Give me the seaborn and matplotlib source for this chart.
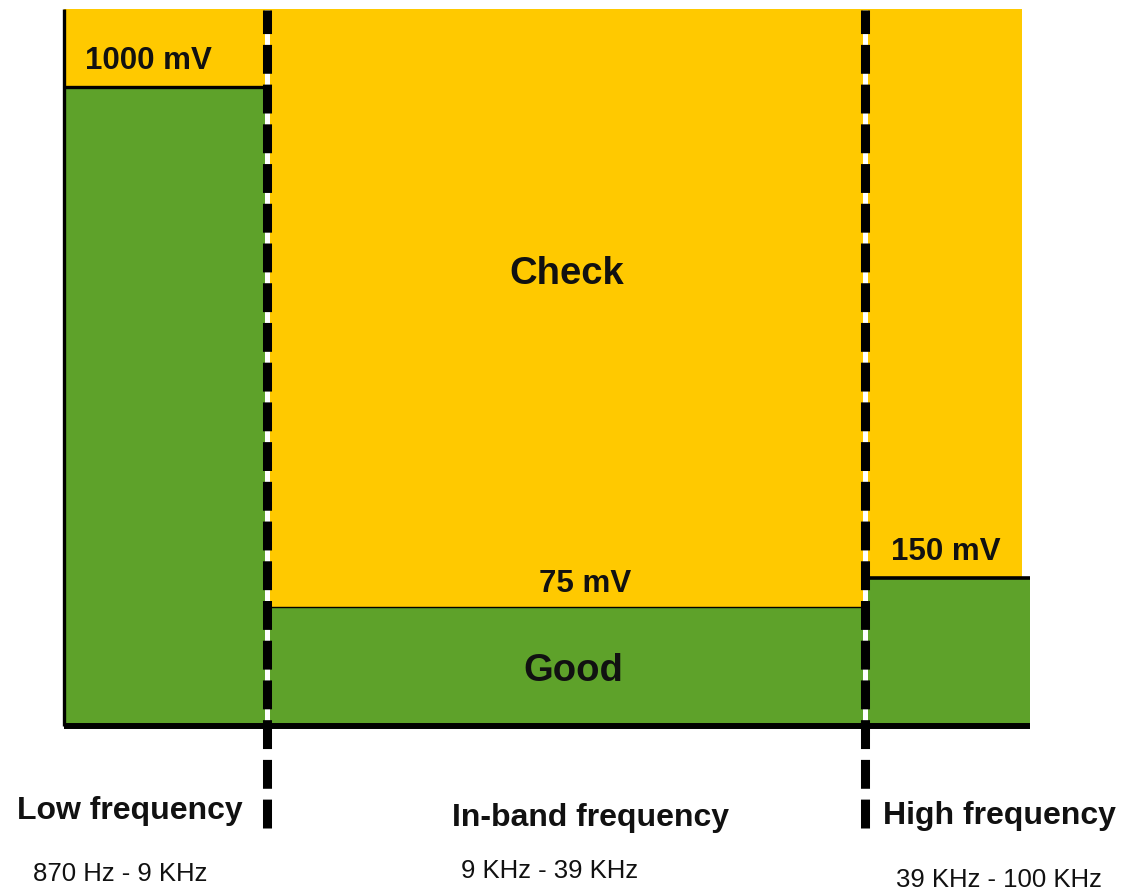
import numpy as np
import pandas as pd
import matplotlib
matplotlib.use("Agg")
import matplotlib.pyplot as plt
import seaborn as sns

# ---------------- data ----------------
band_names = ["Low frequency", "In-band frequency", "High frequency"]
band_ranges = ["870 Hz - 9 KHz", "9 KHz - 39 KHz", "39 KHz - 100 KHz"]
band_widths = [203, 598, 165]            # schematic widths of the three bands
threshold_labels = ["1000 mV", "75 mV", "150 mV"]
good_heights = [0.891, 0.166, 0.206]     # schematic height of the "Good" zone (fraction of chart)
zone_labels = ["Check", "Good"]

# ---------------- style ----------------
sns.set_style("white")
plt.rcParams["font.family"] = ["Liberation Sans", "DejaVu Sans"]

YELLOW = "#FFC900"
GREEN = "#5EA22A"
W, H = 1134, 890

fig = plt.figure(figsize=(W / 100, H / 100), dpi=100)
ax = fig.add_axes([64 / W, 1 - 726 / H, 966 / W, 717 / H])

edges = np.concatenate([[0], np.cumsum(band_widths)]).astype(float)
mids = (edges[:-1] + edges[1:]) / 2
df = pd.DataFrame({"x": mids, "h": good_heights})

# yellow "Check" background
yellow_extent = 958
ax.axvspan(0, yellow_extent, color=YELLOW, zorder=0, lw=0)

# green "Good" bars of variable width through seaborn
try:
    sns.histplot(data=df, x="x", weights="h", bins=edges.tolist(),
                 color=GREEN, alpha=1, linewidth=0, ax=ax, zorder=1)
except Exception:
    ax.bar(edges[:-1], good_heights, width=np.diff(edges), align="edge",
           color=GREEN, lw=0, zorder=1)

# black line on top of each green zone
top_lw = [2.4, 1.0, 2.6]
for i in range(len(band_widths)):
    ax.hlines(good_heights[i], edges[i], edges[i + 1], color="black",
              lw=top_lw[i], zorder=2)

ax.set_xlim(edges[0], edges[-1])
ax.set_ylim(0, 1)
ax.set_xlabel("")
ax.set_ylabel("")
ax.set_xticks([])
ax.set_yticks([])
for s in ["top", "right"]:
    ax.spines[s].set_visible(False)
ax.spines["left"].set_linewidth(2.4)
ax.spines["bottom"].set_linewidth(4.3)
ax.spines["left"].set_color("black")
ax.spines["bottom"].set_color("black")
ax.spines["left"].set_capstyle("butt")
ax.spines["bottom"].set_capstyle("butt")
ax.spines["left"].set_zorder(5)
ax.spines["bottom"].set_zorder(5)

# dashed band separators (white underlay + black dashes)
y_low = (726 - 828) / 717
for xb in edges[1:-1]:
    ax.plot([xb, xb], [y_low, 0.999], color="white", lw=3.6,
            solid_capstyle="butt", clip_on=False, zorder=6)
    ax.plot([xb, xb], [y_low, 0.999], color="black", lw=6.5,
            linestyle=(0, (3.2, 1.2)), dash_capstyle="butt",
            clip_on=False, zorder=7)

def fp(x, y):
    return x / W, 1 - (y + 3) / H

txt = dict(transform=fig.transFigure, color="#111111", ha="center", va="center")

# threshold labels
ax.text(*fp(148, 58), threshold_labels[0], fontsize=22.5, fontweight="bold", **txt)
ax.text(*fp(585, 581), threshold_labels[1], fontsize=22.5, fontweight="bold", **txt)
ax.text(*fp(946, 549), threshold_labels[2], fontsize=22.5, fontweight="bold", **txt)

# zone labels
ax.text(*fp(567, 271), zone_labels[0], fontsize=27.5, fontweight="bold", **txt)
ax.text(*fp(573, 668), zone_labels[1], fontsize=27.5, fontweight="bold", **txt)

# band names and ranges
name_pos = [(130, 808), (590, 815), (999, 813)]
range_pos = [(120, 871), (550, 868), (999, 877)]
for i in range(3):
    ax.text(*fp(*name_pos[i]), band_names[i], fontsize=23, fontweight="bold", **txt)
    ax.text(*fp(*range_pos[i]), band_ranges[i], fontsize=18.5, **txt)

fig.savefig("out.png", dpi=100)
